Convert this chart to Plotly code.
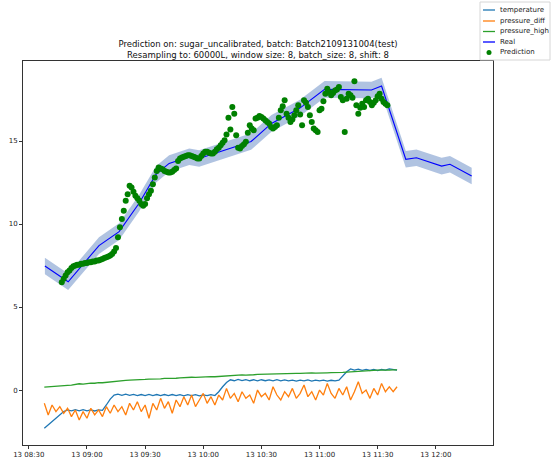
import pandas as pd
import plotly.graph_objects as go

# ---- data -----------------------------------------------------------------
base_time = pd.Timestamp("2021-09-13 08:30")

# sensor readings, every 2 minutes starting 08:38
sensor_start_min = 8
sensor_step_min = 2
temperature = [
    -2.3, -2.1, -1.9, -1.7, -1.5, -1.3, -1.2, -1.25, -1.18, -1.25,
    -1.18, -1.25, -1.2, -1.26, -1.2, -1.22, -0.9, -0.55, -0.3, -0.25,
    -0.32, -0.25, -0.32, -0.26, -0.33, -0.27, -0.33, -0.26, -0.33, -0.27,
    -0.34, -0.27, -0.33, -0.27, -0.34, -0.28, -0.35, -0.28, -0.34, -0.28,
    -0.35, -0.29, -0.34, -0.28, -0.33, -0.1, 0.2, 0.45, 0.62, 0.56,
    0.64, 0.57, 0.63, 0.56, 0.62, 0.55, 0.62, 0.56, 0.61, 0.55,
    0.62, 0.55, 0.61, 0.55, 0.6, 0.54, 0.6, 0.55, 0.61, 0.54,
    0.6, 0.55, 0.6, 0.54, 0.59, 0.55, 0.6, 0.85, 1.1, 1.27,
    1.2, 1.26, 1.19, 1.25, 1.18, 1.24, 1.17, 1.25, 1.2, 1.27,
    1.22, 1.2,
]
pressure_diff = [
    -0.8, -1.5, -0.9, -1.3, -1.0, -1.4, -1.1, -1.6, -1.2, -1.8,
    -1.3, -1.7, -1.1, -1.5, -1.2, -1.6, -1.0, -1.4, -0.9, -1.3,
    -1.0, -1.5, -0.8, -1.2, -0.7, -1.3, -0.9, -1.7, -0.8, -1.2,
    -0.5, -1.1, -0.7, -1.4, -0.6, -1.0, -0.4, -0.9, -0.3, -1.0,
    -0.6, -0.2, -0.8, -0.4, -0.9, -0.3, -0.6, 0.1, -0.5, -0.2,
    -0.7, -0.1, -0.5, -0.3, -0.8, 0.0, -0.4, -0.2, -0.6, 0.2,
    -0.3, -0.6, -0.1, -0.4, 0.1, -0.5, -0.2, 0.3, -0.4, -0.1,
    -0.6, 0.0, -0.3, 0.4, -0.2, -0.5, 0.1, -0.3, 0.2, -0.6,
    -0.1, 0.5, -0.2, 0.0, -0.5, 0.1, -0.3, 0.4, -0.1, 0.2,
    -0.1, 0.2,
]
pressure_high = [
    0.18, 0.19, 0.2, 0.22, 0.22, 0.25, 0.28, 0.3, 0.33, 0.38,
    0.36, 0.4, 0.42, 0.41, 0.45, 0.44, 0.47, 0.48, 0.5, 0.52,
    0.56, 0.58, 0.6, 0.6, 0.62, 0.61, 0.64, 0.66, 0.65, 0.68,
    0.67, 0.7, 0.69, 0.72, 0.71, 0.73, 0.75, 0.74, 0.77, 0.76,
    0.78, 0.8, 0.79, 0.81, 0.8, 0.82, 0.85, 0.84, 0.88, 0.9,
    0.89, 0.91, 0.9, 0.93, 0.92, 0.94, 0.95, 0.94, 0.97, 0.96,
    0.98, 0.97, 0.99, 1.0, 0.99, 1.01, 1.0, 1.02, 1.01, 1.03,
    1.02, 1.04, 1.03, 1.04, 1.05, 1.04, 1.05, 1.06, 1.08, 1.1,
    1.13, 1.15, 1.16, 1.18, 1.17, 1.19, 1.2, 1.19, 1.21, 1.2,
    1.22, 1.21,
]

# resampled real target (minutes after 08:30, value)
real_minutes = [8.3, 20.3, 36.2, 46.6, 56.9, 65.7, 72.4, 82.8, 87.9, 98.3,
                114.7, 125.2, 139.7, 152.6, 176.8, 182.0, 194.5, 200.0,
                213.0, 217.3, 228.5]
real_values = [7.47, 6.52, 8.7, 9.54, 11.25, 13.0, 13.65, 14.05, 13.95, 14.36,
               14.97, 16.06, 16.97, 18.11, 18.07, 18.31, 13.9, 13.99,
               13.49, 13.6, 12.89]
real_band = 0.5

# model predictions, one per minute starting 08:47
pred_start_min = 17
prediction = [
    6.5, 6.7, 6.9, 7.1, 7.2, 7.35, 7.45, 7.5, 7.55, 7.55,
    7.6, 7.6, 7.65, 7.65, 7.7, 7.7, 7.75, 7.75, 7.8, 7.8,
    7.85, 7.9, 7.95, 8.0, 8.05, 8.1, 8.2, 8.35, 8.55, 9.2,
    9.8, 10.3, 10.8, 11.4, 11.8, 12.3, 12.2, 11.95, 11.7, 11.55,
    11.4, 11.2, 11.1, 11.2, 11.55, 11.8, 12.0, 12.4, 12.8, 13.2,
    13.4, 13.35, 13.3, 13.2, 13.15, 13.1, 13.1, 13.15, 13.25, 13.35,
    13.8, 13.95, 14.0, 14.05, 14.1, 14.15, 14.15, 14.1, 14.05, 14.0,
    13.95, 13.95, 14.1, 14.25, 14.35, 14.35, 14.3, 14.25, 14.25, 14.35,
    14.5, 14.6, 14.75, 14.9, 15.05, 15.4, 16.4, 15.7, 17.05, 16.65,
    15.35, 14.6, 14.55, 14.7, 14.8, 14.95, 15.5, 15.95, 15.75, 15.65,
    16.35, 16.4, 16.5, 16.45, 16.35, 16.25, 16.15, 16.05, 15.85, 15.75,
    15.85, 15.95, 16.4, 16.85, 17.1, 17.45, 16.65, 16.4, 16.15, 16.3,
    16.55, 16.85, 17.15, 16.6, 15.95, 17.45, 17.3, 17.05, 16.55, 16.15,
    15.75, 15.65, 15.55, 16.85, 16.95, 17.4, 17.85, 18.15, 17.95, 17.75,
    17.9, 18.05, 18.1, 18.25, 17.65, 17.45, 15.55, 17.55, 17.85, 17.75,
    17.6, 18.6, 17.15, 16.65, 17.0, 17.25, 17.05, 17.45, 17.55, 17.35,
    17.15, 17.3, 17.45, 17.7, 17.85, 17.55, 17.35, 17.25, 17.15,
]

x_range_min = [-3.0, 239.5]
y_range = [-3.31, 19.82]
tick_labels_every_min = 30

title_text = ("Prediction on: sugar_uncalibrated, batch: Batch2109131004(test)<br>"
              "Resampling to: 60000L, window size: 8, batch_size: 8, shift: 8")

legend_names = ["temperature", "pressure_diff", "pressure_high", "Real", "Prediction"]
legend_colors = ["#1f77b4", "#ff7f0e", "#2ca02c", "#0000ff", "#008000"]


def at(minutes):
    return base_time + pd.Timedelta(minutes=minutes)


sensor_times = [at(sensor_start_min + sensor_step_min * i) for i in range(len(temperature))]
pred_times = [at(pred_start_min + i) for i in range(len(prediction))]
real_times = [at(m) for m in real_minutes]
real_upper = [v + real_band for v in real_values]
real_lower = [v - real_band for v in real_values]

# ---- figure ---------------------------------------------------------------
W, H = 555, 460
ML, MR, MT, MB = 23, 62, 61, 15
fig = go.Figure()

line_w = 1.3
fig.add_trace(go.Scatter(x=sensor_times, y=temperature, mode="lines", name=legend_names[0],
                         line=dict(color=legend_colors[0], width=line_w)))
fig.add_trace(go.Scatter(x=sensor_times, y=pressure_diff, mode="lines", name=legend_names[1],
                         line=dict(color=legend_colors[1], width=line_w)))
fig.add_trace(go.Scatter(x=sensor_times, y=pressure_high, mode="lines", name=legend_names[2],
                         line=dict(color=legend_colors[2], width=line_w)))

# uncertainty band around the real series
fig.add_trace(go.Scatter(x=real_times + real_times[::-1], y=real_upper + real_lower[::-1],
                         mode="lines", fill="toself", fillcolor="rgba(150,175,215,0.75)",
                         line=dict(width=0), hoverinfo="skip", showlegend=False))
fig.add_trace(go.Scatter(x=real_times, y=real_values, mode="lines", name=legend_names[3],
                         line=dict(color=legend_colors[3], width=1.1)))
fig.add_trace(go.Scatter(x=pred_times, y=prediction, mode="markers", name=legend_names[4],
                         marker=dict(color=legend_colors[4], size=6)))

# compact legend box in the top-right corner (paper coordinates)
plot_w = W - ML - MR
plot_h = H - MT - MB


def px_to_paper(px, py):
    return (px - ML) / plot_w, (H - MB - py) / plot_h


shapes = []
annotations = []
bx0, by0 = px_to_paper(480, 2)
bx1, by1 = px_to_paper(550, 60)
shapes.append(dict(type="rect", xref="paper", yref="paper", x0=bx0, y0=by1, x1=bx1, y1=by0,
                   line=dict(color="#d6d6d6", width=1), fillcolor="white", layer="above"))
row_y = [10, 21, 31.5, 42, 52.5]
for name, color, ry in zip(legend_names, legend_colors, row_y):
    if name == "Prediction":
        cx0, cy0 = px_to_paper(486.5, ry + 2.5)
        cx1, cy1 = px_to_paper(491.5, ry - 2.5)
        shapes.append(dict(type="circle", xref="paper", yref="paper",
                           x0=cx0, y0=cy0, x1=cx1, y1=cy1,
                           fillcolor=color, line=dict(width=0), layer="above"))
    else:
        lx0, ly = px_to_paper(483, ry)
        lx1, _ = px_to_paper(495, ry)
        shapes.append(dict(type="line", xref="paper", yref="paper", x0=lx0, y0=ly, x1=lx1, y1=ly,
                           line=dict(color=color, width=1.3), layer="above"))
    tx, ty = px_to_paper(498, ry)
    annotations.append(dict(xref="paper", yref="paper", x=tx, y=ty, text=name,
                            showarrow=False, xanchor="left", yanchor="middle",
                            font=dict(size=7, color="#222")))

fig.update_layout(
    width=W, height=H,
    margin=dict(l=ML, r=MR, t=MT, b=MB, autoexpand=False),
    paper_bgcolor="white", plot_bgcolor="white",
    font=dict(family="DejaVu Sans", size=7, color="#222"),
    title=dict(text=title_text, x=(ML + W - MR) / 2 / W, xanchor="center",
               y=1 - 47 / H, yanchor="top", font=dict(size=8.5, color="#111")),
    showlegend=False,
    shapes=shapes,
    annotations=annotations,
)
fig.update_xaxes(
    type="date", range=[at(x_range_min[0]), at(x_range_min[1])],
    tick0=base_time, dtick=tick_labels_every_min * 60 * 1000, tickformat="%d %H:%M",
    showgrid=False, zeroline=False, showline=True, linecolor="#333", linewidth=1,
    mirror=True, ticks="outside", ticklen=3, tickcolor="#333",
    tickfont=dict(size=7),
)
fig.update_yaxes(
    range=y_range, tickvals=[0, 5, 10, 15],
    showgrid=False, zeroline=False, showline=True, linecolor="#333", linewidth=1,
    mirror=True, ticks="outside", ticklen=3, tickcolor="#333",
    tickfont=dict(size=7),
)

fig.write_html("out.html")
